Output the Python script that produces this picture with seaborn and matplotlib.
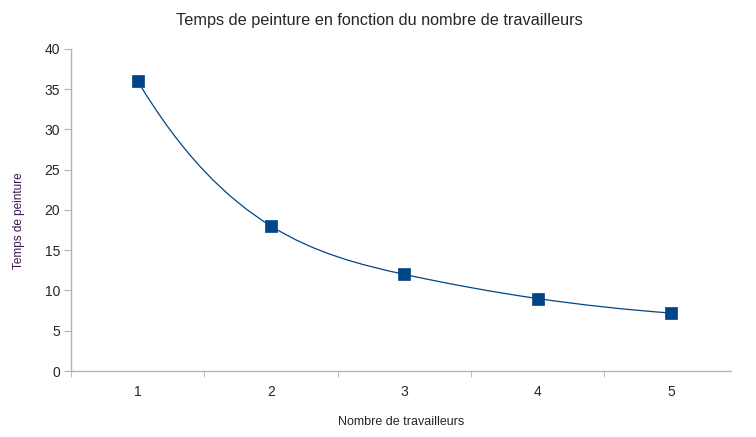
import matplotlib
matplotlib.use("Agg")
import matplotlib.pyplot as plt
from matplotlib.path import Path
from matplotlib.patches import PathPatch
import numpy as np
import pandas as pd
import seaborn as sns

# data
travailleurs = [1, 2, 3, 4, 5]
temps = [36, 18, 12, 9, 7.2]
y_ticks = [0, 5, 10, 15, 20, 25, 30, 35, 40]

df = pd.DataFrame({"travailleurs": travailleurs, "temps": temps})

sns.set_style("white")
plt.rcParams["font.family"] = ["Liberation Sans", "DejaVu Sans"]

blue = "#004586"
grey = "#b3b3b3"

fig = plt.figure(figsize=(7.56, 4.37), dpi=100)
ax = fig.add_axes([0.094, 0.151, 0.873, 0.737])


def spline_slopes(t, v):
    # cubic spline, not-a-knot ends; returns first derivative at each knot
    n = len(t)
    h = np.diff(t)
    A = np.zeros((n, n))
    b = np.zeros(n)
    A[0, :3] = [h[1], -(h[0] + h[1]), h[0]]
    A[-1, -3:] = [h[-1], -(h[-2] + h[-1]), h[-2]]
    for i in range(1, n - 1):
        A[i, i - 1] = h[i - 1]
        A[i, i] = 2 * (h[i - 1] + h[i])
        A[i, i + 1] = h[i]
        b[i] = 6 * ((v[i + 1] - v[i]) / h[i] - (v[i] - v[i - 1]) / h[i - 1])
    M = np.linalg.solve(A, b)
    d = np.zeros(n)
    for i in range(n - 1):
        d[i] = (v[i + 1] - v[i]) / h[i] - h[i] * (2 * M[i] + M[i + 1]) / 6
    d[-1] = (v[-1] - v[-2]) / h[-1] + h[-1] * (M[-2] + 2 * M[-1]) / 6
    return d


# smoothed line drawn as bezier segments between the points
x = np.asarray(travailleurs, float)
y = np.asarray(temps, float)
dy = spline_slopes(x, y)

verts = [(x[0], y[0])]
codes = [Path.MOVETO]
for i in range(len(x) - 1):
    k = (x[i + 1] - x[i]) / 3
    verts += [(x[i] + k, y[i] + dy[i] * k),
              (x[i + 1] - k, y[i + 1] - dy[i + 1] * k),
              (x[i + 1], y[i + 1])]
    codes += [Path.CURVE4] * 3
ax.add_patch(PathPatch(Path(verts, codes), facecolor="none", edgecolor=blue, lw=0.9, zorder=2))

sns.scatterplot(data=df, x="travailleurs", y="temps", marker="s", s=65,
                color=blue, edgecolor=blue, linewidth=0.5, ax=ax, zorder=3)

ax.set_xlim(0.5, 5.45)
ax.set_ylim(0, 40)
ax.set_yticks(y_ticks)
ax.set_xticks(travailleurs)
ax.set_xticks([0.5, 1.5, 2.5, 3.5, 4.5], minor=True)

for s in ["top", "right"]:
    ax.spines[s].set_visible(False)
for s in ["left", "bottom"]:
    ax.spines[s].set_color(grey)
    ax.spines[s].set_linewidth(1.0)

ax.tick_params(axis="y", which="major", length=5, color=grey, labelsize=10, pad=3, left=True)
ax.tick_params(axis="x", which="major", length=0, labelsize=10, pad=10, bottom=True)
ax.tick_params(axis="x", which="minor", length=4, color=grey, bottom=True)

ax.set_xlabel("Nombre de travailleurs", fontsize=9, labelpad=12)
ax.set_ylabel("Temps de peinture", fontsize=8.5, color="#3b1450", labelpad=14, y=0.466)
fig.text(0.502, 0.954, "Temps de peinture en fonction du nombre de travailleurs",
         fontsize=11.7, ha="center", va="center")

fig.savefig("out.png", dpi=100)
